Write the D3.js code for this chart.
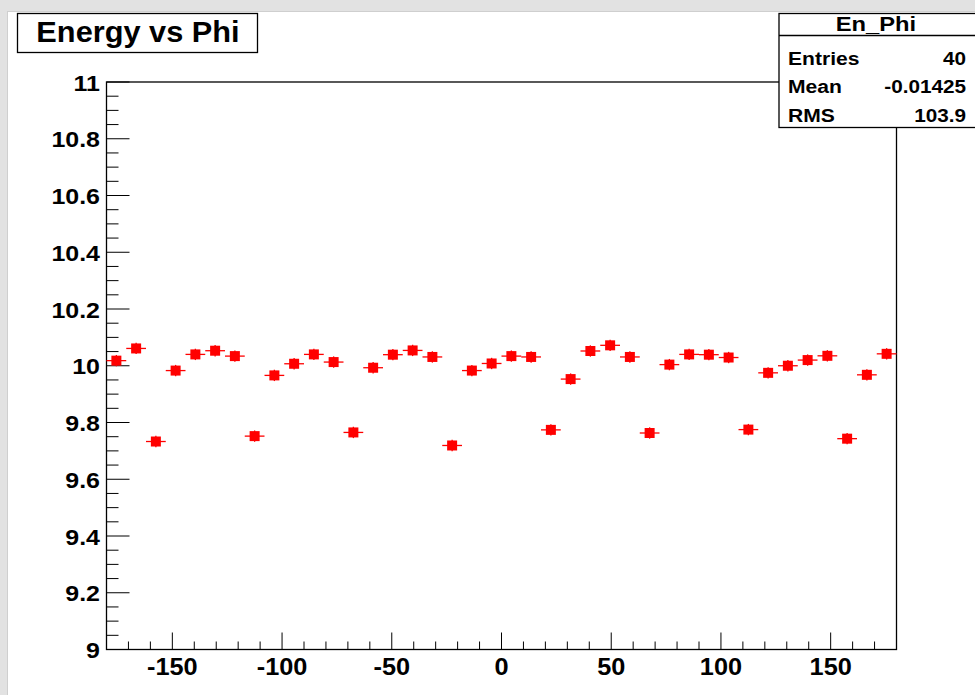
<!DOCTYPE html>
<html>
<head>
<meta charset="utf-8">
<script src="https://cdn.jsdelivr.net/npm/d3@7"></script>
<style>
  html, body { margin: 0; padding: 0; background: #e2e2e2; }
  svg { display: block; }
  text { font-family: "Liberation Sans", Arial, Helvetica, sans-serif; font-weight: bold; }
</style>
</head>
<body>
<svg id="chart" width="975" height="695"></svg>
<script>
// Histogram "En_Phi": mean energy per phi bin (40 bins over -180..180 degrees)
const binEdges = [-180, 180];
const nBins = 40;
const energy = [
  10.018, 10.061, 9.733, 9.983, 10.040, 10.053, 10.034, 9.752,
  9.966, 10.007, 10.040, 10.013, 9.765, 9.993, 10.039, 10.054,
  10.031, 9.719, 9.983, 10.008, 10.034, 10.031, 9.774, 9.953,
  10.052, 10.072, 10.031, 9.763, 10.004, 10.040, 10.039, 10.029,
  9.775, 9.975, 10.000, 10.020, 10.035, 9.743, 9.968, 10.042
];
const energyErr = [
  0.02, 0.02, 0.02, 0.02, 0.02, 0.02, 0.02, 0.02,
  0.02, 0.02, 0.02, 0.02, 0.02, 0.02, 0.02, 0.02,
  0.02, 0.02, 0.02, 0.02, 0.02, 0.02, 0.02, 0.02,
  0.02, 0.02, 0.02, 0.02, 0.02, 0.02, 0.02, 0.02,
  0.02, 0.02, 0.02, 0.02, 0.02, 0.02, 0.02, 0.02
];
const xTicks = [-150, -100, -50, 0, 50, 100, 150];
const yTicks = [9, 9.2, 9.4, 9.6, 9.8, 10, 10.2, 10.4, 10.6, 10.8, 11];
const yRange = [9, 11];
const titleText = "Energy vs Phi";
const statsName = "En_Phi";
const statsRows = [["Entries", "40"], ["Mean", "-0.01425"], ["RMS", "103.9"]];

const svg = d3.select("#chart");

// bold Helvetica-like label, widened horizontally
function label(parent, px, py, str, size, anchor, sx) {
  return parent.append("g")
    .attr("transform", `translate(${px},${py}) scale(${sx},1)`)
    .append("text")
    .attr("text-anchor", anchor)
    .attr("font-size", size)
    .text(str);
}

// canvas pad
svg.append("rect").attr("x", 7.5).attr("y", 11.5).attr("width", 975).attr("height", 695)
  .attr("fill", "#ffffff").attr("stroke", "#cfcfcf").attr("stroke-width", 1);

const frame = { left: 106.5, right: 896.5, top: 82, bottom: 649.5 };

const x = d3.scaleLinear().domain(binEdges).range([frame.left, frame.right]);
const y = d3.scaleLinear().domain(yRange).range([frame.bottom, frame.top]);

// frame
svg.append("rect")
  .attr("x", frame.left).attr("y", frame.top)
  .attr("width", frame.right - frame.left).attr("height", frame.bottom - frame.top)
  .attr("fill", "none").attr("stroke", "#000").attr("stroke-width", 1.3);

// x ticks (pointing inside the frame)
const xMinor = d3.range(-170, 180, 10).filter(v => v % 50 !== 0);
const gx = svg.append("g");
gx.selectAll("line.minor").data(xMinor).join("line")
  .attr("x1", d => x(d)).attr("x2", d => x(d))
  .attr("y1", frame.bottom).attr("y2", frame.bottom - 8)
  .attr("stroke", "#000").attr("stroke-width", 1);
gx.selectAll("line.major").data(xTicks).join("line")
  .attr("x1", d => x(d)).attr("x2", d => x(d))
  .attr("y1", frame.bottom).attr("y2", frame.bottom - 17)
  .attr("stroke", "#000").attr("stroke-width", 1);
xTicks.forEach(d => label(gx, x(d), 675, String(d), 23, "middle", 1.1));

// y ticks
const yMinor = d3.range(9, 11.0001, 0.05).map(v => +v.toFixed(2))
  .filter(v => Math.abs(v * 5 - Math.round(v * 5)) > 1e-6);
const gy = svg.append("g");
gy.selectAll("line.minor").data(yMinor).join("line")
  .attr("x1", frame.left).attr("x2", frame.left + 12)
  .attr("y1", d => y(d)).attr("y2", d => y(d))
  .attr("stroke", "#000").attr("stroke-width", 1);
gy.selectAll("line.major").data(yTicks).join("line")
  .attr("x1", frame.left).attr("x2", frame.left + 23)
  .attr("y1", d => y(d)).attr("y2", d => y(d))
  .attr("stroke", "#000").attr("stroke-width", 1);
yTicks.forEach(d => label(gy, 100, y(d) + 8.5, String(d), 22.5, "end", 1.11));

// data points with error bars
const binW = (binEdges[1] - binEdges[0]) / nBins;
const pts = energy.map((v, i) => ({
  lo: binEdges[0] + i * binW,
  hi: binEdges[0] + (i + 1) * binW,
  c: binEdges[0] + (i + 0.5) * binW,
  v, e: energyErr[i]
}));
const gp = svg.append("g");
gp.selectAll("line.h").data(pts).join("line")
  .attr("x1", d => x(d.lo)).attr("x2", d => x(d.hi))
  .attr("y1", d => y(d.v)).attr("y2", d => y(d.v))
  .attr("stroke", "#ff0000").attr("stroke-width", 1.3);
gp.selectAll("line.v").data(pts).join("line")
  .attr("x1", d => x(d.c)).attr("x2", d => x(d.c))
  .attr("y1", d => y(d.v - d.e)).attr("y2", d => y(d.v + d.e))
  .attr("stroke", "#ff0000").attr("stroke-width", 1.3);
gp.selectAll("rect").data(pts).join("rect")
  .attr("x", d => x(d.c) - 5).attr("y", d => y(d.v) - 5)
  .attr("width", 10).attr("height", 10)
  .attr("fill", "#ff0000");

// title box
svg.append("rect").attr("x", 17.5).attr("y", 13.5).attr("width", 240).attr("height", 39)
  .attr("fill", "#fff").attr("stroke", "#000").attr("stroke-width", 1.3);
label(svg, 138, 42, titleText, 29, "middle", 1.06);

// statistics box
const sb = { x: 779, y: 13.5, w: 210, h: 114 };
svg.append("rect").attr("x", sb.x).attr("y", sb.y).attr("width", sb.w).attr("height", sb.h)
  .attr("fill", "#fff").attr("stroke", "#000").attr("stroke-width", 1.3);
svg.append("line").attr("x1", sb.x).attr("x2", sb.x + sb.w).attr("y1", 35.5).attr("y2", 35.5)
  .attr("stroke", "#000").attr("stroke-width", 1.3);
label(svg, 876, 30.5, statsName, 21, "middle", 1.13);
const rowY = [64.5, 93, 121.5];
statsRows.forEach((r, i) => {
  label(svg, 788, rowY[i], r[0], 18.5, "start", 1.14);
  label(svg, 966, rowY[i], r[1], 18.5, "end", 1.12);
});
</script>
</body>
</html>
